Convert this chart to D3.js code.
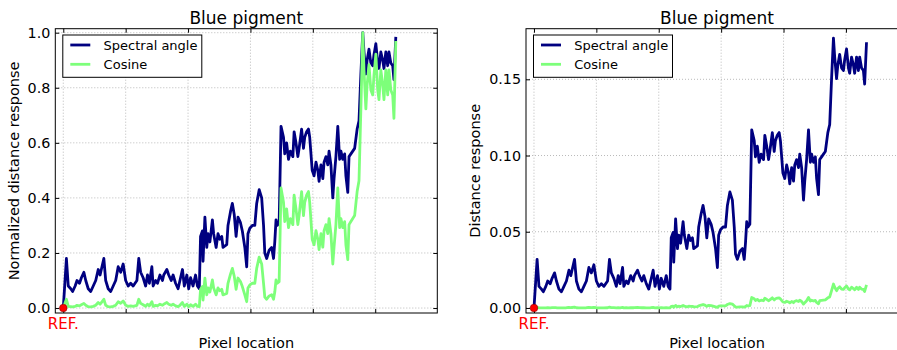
<!DOCTYPE html>
<html>
<head>
<meta charset="utf-8">
<script src="https://cdn.jsdelivr.net/npm/d3@7"></script>
<style>
  body { margin: 0; background: #fff; }
  svg { display: block; font-family: "DejaVu Sans", "Bitstream Vera Sans", sans-serif; }
</style>
</head>
<body>
<svg id="chart" width="897" height="350"></svg>
<script>
// Pixel positions along the scan line (pixel 0 is the reference pixel)
const pixelLocation = [
  0,5,8,12,15,19,22,26,29,33,36,40,44,48,52,56,59,61,65,68,72,76,80,84,88,92,96,100,104,108,
  112,118,121,124,128,132,135,138,142,144,148,151,155,159,161,166,169,173,176,180,184,187,191,194,198,
  201,204,208,212,215,218,
  220,223,224,227,230,232,235,239,241,245,248,251,254,256,262,264,268,271,274,277,280,284,287,291,294,
  296,299,303,307,310,314,318,321,323,326,330,334,337,339,341,343,346,
  349,353,355,358,361,364,368,370,373,376,378,382,385,387,390,393,395,399,402,405,408,410,413,416,418,
  421,424,426,429,432,434,437,440,443,445,448,451,453,456,458,461,464,467,471,474,477,
  480,482,485,487,490,493,496,498,501,504,506,509,512,514,517,520,522,525,528,530,533
];

// Spectral angle distance to the reference, normalised to its peak
const spectralAngleNorm = [
  0,.18,.08,.07,.06,.08,.10,.09,.11,.13,.10,.07,.06,.08,.10,.14,.12,.14,.18,.10,.07,.06,.08,.10,.15,
  .13,.16,.10,.08,.09,.08,.10,.18,.13,.11,.08,.12,.09,.15,.08,.10,.09,.12,.10,.12,.14,.12,.10,.12,.09,
  .07,.10,.14,.08,.12,.07,.11,.08,.12,.08,.07,
  .26,.28,.17,.33,.22,.27,.24,.32,.27,.22,.27,.25,.26,.22,.23,.30,.35,.38,.34,.26,.33,.31,.28,.22,.15,
  .27,.29,.30,.30,.38,.43,.40,.30,.20,.18,.21,.22,.18,.24,.32,.30,.31,
  .66,.62,.56,.60,.54,.57,.55,.64,.60,.55,.58,.65,.58,.62,.64,.65,.62,.50,.48,.53,.50,.46,.52,.47,.53,
  .55,.52,.57,.52,.40,.47,.55,.66,.54,.57,.54,.56,.48,.42,.55,.56,.57,.58,.65,.68,.85,
  1.00,.93,.85,.90,.94,.89,.88,.92,.96,.89,.87,.93,.90,.87,.93,.88,.93,.89,.88,.83,.985
];

// Cosine distance to the reference, normalised to its peak
const cosineNorm = [
  0,.032,.006,.005,.004,.006,.010,.008,.012,.017,.010,.005,.004,.006,.010,.020,.014,.020,.032,.010,
  .005,.004,.006,.010,.023,.017,.026,.010,.006,.008,.006,.010,.032,.017,.012,.006,.014,.008,.023,.006,
  .010,.008,.014,.010,.014,.020,.014,.010,.014,.008,.005,.010,.020,.006,.014,.005,.012,.006,.014,.006,.005,
  .068,.078,.029,.109,.048,.073,.058,.102,.073,.048,.073,.063,.068,.048,.053,.090,.123,.144,.116,.068,
  .109,.096,.078,.048,.023,.073,.084,.090,.090,.144,.185,.160,.090,.040,.032,.044,.048,.032,.058,.102,.090,.096,
  .436,.384,.314,.360,.292,.325,.303,.410,.360,.303,.336,.423,.336,.384,.410,.423,.384,.250,.230,.281,
  .250,.212,.270,.221,.281,.303,.270,.325,.270,.160,.221,.303,.436,.292,.325,.292,.314,.230,.176,.303,
  .314,.325,.336,.423,.462,.723,
  1.000,.865,.723,.810,.884,.792,.774,.846,.922,.792,.757,.865,.810,.757,.865,.774,.865,.792,.774,.689,.970
];

// Peak (un-normalised) distance values
const spectralAnglePeak = 0.177;
const cosinePeak = 0.0157;

const seriesNames = ["Spectral angle", "Cosine"];
const seriesColors = ["#000080", "#7dff7a"];

const xTickValues = [0, 100, 200, 300, 400, 500];
const xTickLabels = ["REF.", "", "", "", "", ""];
const leftYTicks = [0.0, 0.2, 0.4, 0.6, 0.8, 1.0];
const rightYTicks = [0.00, 0.05, 0.10, 0.15];

const svg = d3.select("#chart");

function drawPanel(cfg) {
  const top = 28.7, bottom = 313;
  const x = d3.scaleLinear().domain([-12.8, 599.5]).range([cfg.left, cfg.left + 382]);
  const y = d3.scaleLinear().domain(cfg.yDomain).range([bottom, top]);
  const g = svg.append("g");

  const clipId = "clip" + cfg.id;
  svg.append("defs").append("clipPath").attr("id", clipId)
    .append("rect").attr("x", cfg.left).attr("y", top)
    .attr("width", 382).attr("height", bottom - top);

  // dotted grid
  const grid = g.append("g").attr("stroke", "#a8a8a8").attr("stroke-width", 0.8)
    .attr("stroke-dasharray", "1,2");
  cfg.yTicks.forEach(v => grid.append("line")
    .attr("x1", cfg.left).attr("x2", cfg.left + 382)
    .attr("y1", y(v)).attr("y2", y(v)));
  xTickValues.forEach(v => grid.append("line")
    .attr("x1", x(v)).attr("x2", x(v)).attr("y1", top).attr("y2", bottom));

  // inward ticks on all four sides
  const axL = d3.axisRight(y).tickValues(cfg.yTicks).tickSize(4).tickFormat("");
  const axR = d3.axisLeft(y).tickValues(cfg.yTicks).tickSize(4).tickFormat("");
  const axB = d3.axisTop(x).tickValues(xTickValues).tickSize(4).tickFormat("");
  const axT = d3.axisBottom(x).tickValues(xTickValues).tickSize(4).tickFormat("");
  [[axL, `translate(${cfg.left},0)`], [axR, `translate(${cfg.left + 382},0)`],
   [axB, `translate(0,${bottom})`], [axT, `translate(0,${top})`]].forEach(([ax, tr]) => {
    const a = g.append("g").attr("transform", tr).call(ax);
    a.select(".domain").remove();
    a.selectAll("line").attr("stroke", "#000").attr("stroke-width", 1);
  });

  // y tick labels
  g.append("g").selectAll("text").data(cfg.yTicks).join("text")
    .attr("x", cfg.left - 5).attr("y", d => y(d)).attr("dy", "0.36em")
    .attr("text-anchor", "end").attr("font-size", 14.3).attr("fill", "#000")
    .text(d => d3.format(cfg.fmt)(d));

  // x tick labels (only the reference pixel is labelled)
  g.append("g").selectAll("text").data(xTickValues).join("text")
    .attr("x", d => x(d)).attr("y", 328.5).attr("text-anchor", "middle")
    .attr("font-size", 15).attr("fill", "#ff0000")
    .text((d, i) => xTickLabels[i]);

  // series lines
  const lineGen = vals => d3.line()
    .x((d, i) => x(pixelLocation[i]))
    .y(d => y(d))(vals);
  const plot = g.append("g").attr("clip-path", `url(#${clipId})`);
  cfg.series.forEach((vals, k) => plot.append("path")
    .attr("d", lineGen(vals)).attr("fill", "none")
    .attr("stroke", seriesColors[k]).attr("stroke-width", 2.8)
    .attr("stroke-linejoin", "round"));

  // reference marker
  g.append("circle").attr("cx", x(0)).attr("cy", y(0)).attr("r", 3.8)
    .attr("fill", "#ff0000").attr("stroke", "#8b0000").attr("stroke-width", 0.6);

  // frame
  g.append("rect").attr("x", cfg.left).attr("y", top)
    .attr("width", 382).attr("height", bottom - top)
    .attr("fill", "none").attr("stroke", "#000").attr("stroke-width", 1);

  // title and axis labels
  g.append("text").attr("x", cfg.left + 191).attr("y", 24).attr("text-anchor", "middle")
    .attr("font-size", 17).text("Blue pigment");
  g.append("text").attr("x", cfg.left + 191).attr("y", 348).attr("text-anchor", "middle")
    .attr("font-size", 14.5).text("Pixel location");
  g.append("text").attr("transform", `translate(${cfg.ylabelX},${(top + bottom) / 2}) rotate(-90)`)
    .attr("text-anchor", "middle").attr("font-size", 14.5).text(cfg.ylabel);

  // legend
  const lg = g.append("g").attr("transform", `translate(${cfg.left + 7.5},35)`);
  lg.append("rect").attr("width", 139).attr("height", 42.3)
    .attr("fill", "#fff").attr("stroke", "#000").attr("stroke-width", 1);
  seriesNames.forEach((name, k) => {
    const ly = 10 + k * 19.3;
    lg.append("line").attr("x1", 7.5).attr("x2", 27.5).attr("y1", ly).attr("y2", ly)
      .attr("stroke", seriesColors[k]).attr("stroke-width", 2.8);
    lg.append("text").attr("x", 40.8).attr("y", ly).attr("dy", "0.36em")
      .attr("font-size", 13).text(name);
  });
}

drawPanel({
  id: "L", left: 55.3, yDomain: [-0.018, 1.0145], yTicks: leftYTicks, fmt: ".1f",
  ylabel: "Normalized distance response", ylabelX: 19,
  series: [spectralAngleNorm, cosineNorm]
});

drawPanel({
  id: "R", left: 526, yDomain: [-0.0033, 0.1832], yTicks: rightYTicks, fmt: ".2f",
  ylabel: "Distance response", ylabelX: 480,
  series: [spectralAngleNorm.map(v => v * spectralAnglePeak), cosineNorm.map(v => v * cosinePeak)]
});
</script>
</body>
</html>
